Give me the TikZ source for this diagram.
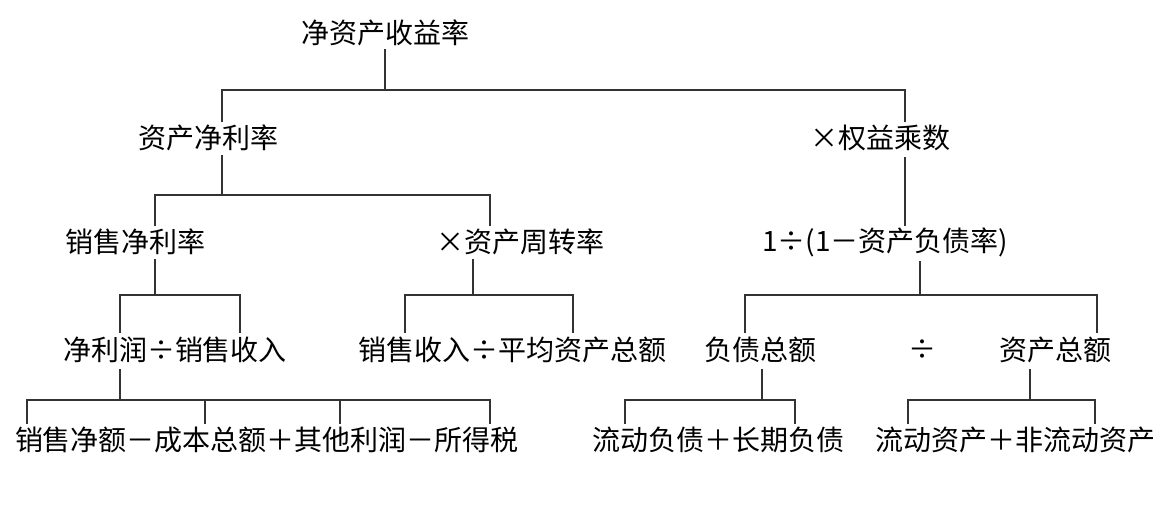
\documentclass[tikz,border=0pt]{standalone}
\usepackage{fontspec}
\setmainfont{Noto Sans CJK SC}
\begin{document}
\begin{tikzpicture}[x=1pt,y=-1pt,
  t/.style={inner sep=0pt,font=\fontsize{28}{28}\selectfont},
  ln/.style={draw=black!80,line width=1.6pt}]
\useasboundingbox[fill=white] (0,0) rectangle (1165,514);
\node[t] (a) at (385,33) {净资产收益率};
\node[t] (b) at (208,138) {资产净利率};
\node[t] (c) at (880,138) {×权益乘数};
\node[t] (d) at (135,242) {销售净利率};
\node[t] (e) at (520,242) {×资产周转率};
\node[t] (f) at (885,242) {1÷(1－资产负债率)};
\node[t] (g) at (175,350) {净利润÷销售收入};
\node[t] (h) at (512,350) {销售收入÷平均资产总额};
\node[t] (i) at (760,350) {负债总额};
\node[t] (j) at (922,350) {÷};
\node[t] (k) at (1055,350) {资产总额};
\node[t] (l) at (267,440) {销售净额－成本总额＋其他利润－所得税};
\node[t] (m) at (718,440) {流动负债＋长期负债};
\node[t] (n) at (1015,440) {流动资产＋非流动资产};
% connectors
\draw[ln] (385,49) -- (385,90);
\draw[ln] (222,122) -- (222,90) -- (905,90) -- (905,122);
\draw[ln] (222,155) -- (222,195);
\draw[ln] (155,226) -- (155,195) -- (490,195) -- (490,226);
\draw[ln] (905,157) -- (905,226);
\draw[ln] (155,259) -- (155,295);
\draw[ln] (120,333) -- (120,295) -- (240,295) -- (240,333);
\draw[ln] (473,259) -- (473,295);
\draw[ln] (405,333) -- (405,295) -- (573,295) -- (573,333);
\draw[ln] (920,261) -- (920,295);
\draw[ln] (745,333) -- (745,295) -- (1097,295) -- (1097,333);
\draw[ln] (120,369) -- (120,400);
\draw[ln] (27,424) -- (27,400) -- (490,400) -- (490,424);
\draw[ln] (205,400) -- (205,424);
\draw[ln] (340,400) -- (340,424);
\draw[ln] (762,369) -- (762,400);
\draw[ln] (625,424) -- (625,400) -- (795,400) -- (795,424);
\draw[ln] (1030,369) -- (1030,400);
\draw[ln] (908,424) -- (908,400) -- (1095,400) -- (1095,424);
\end{tikzpicture}
\end{document}
